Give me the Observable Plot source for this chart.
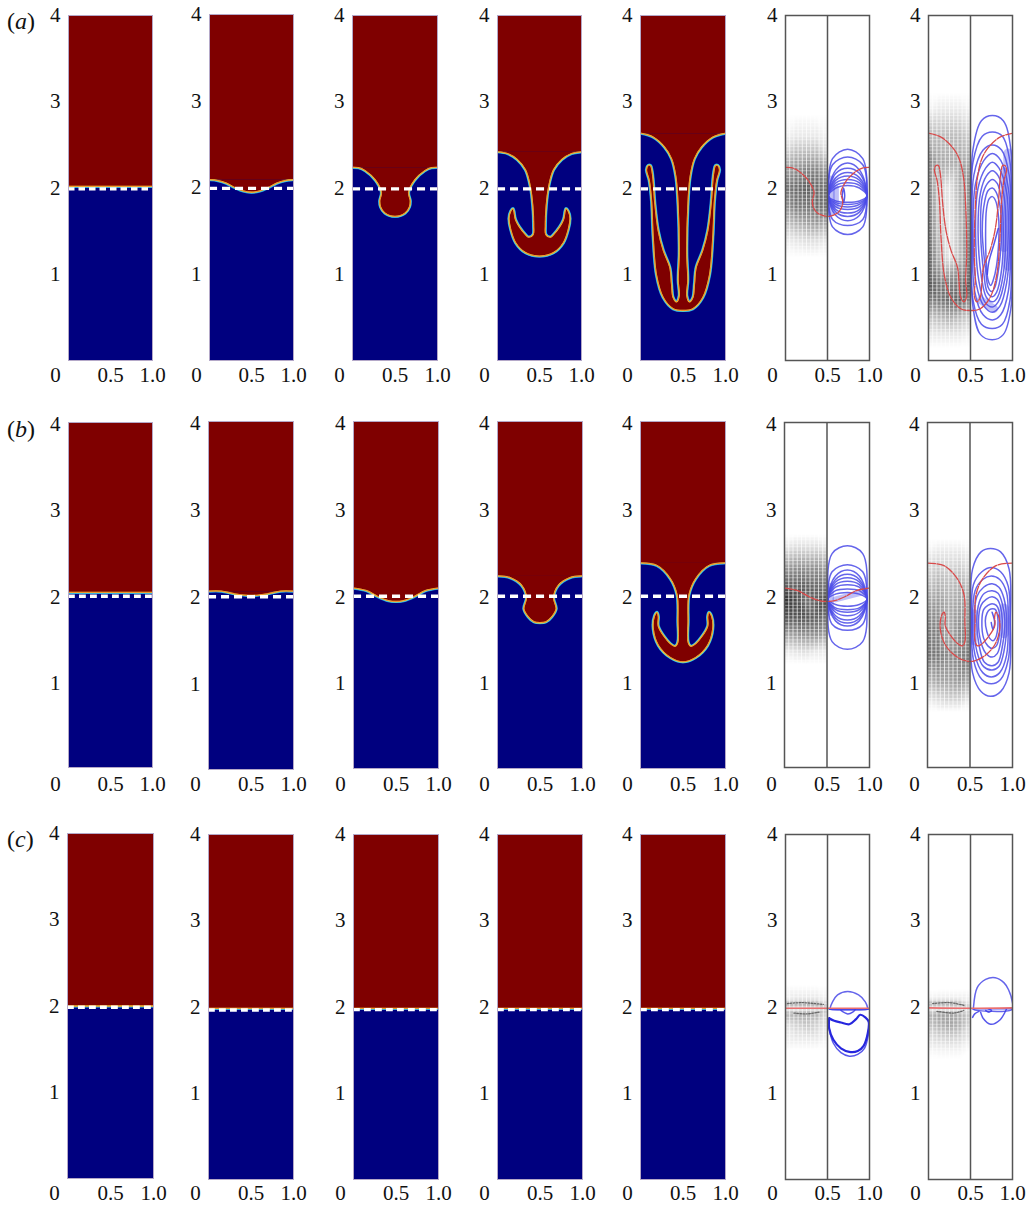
<!DOCTYPE html>
<html><head><meta charset="utf-8">
<script src="https://cdn.jsdelivr.net/npm/d3@7"></script>
<script src="https://cdn.jsdelivr.net/npm/@observablehq/plot@0.6"></script>
<style>
html,body{margin:0;padding:0;background:#fff;}
#page{position:relative;width:1033px;height:1206px;overflow:hidden;font-family:"Liberation Serif",serif;}
.lab{position:absolute;left:7px;font-size:24px;line-height:26px;color:#111;}
</style></head><body><div id="page"></div>
<script>
// ---------- interface curves: left half of each (x, y) -----------
const iface_a1=[[0,2.02],[.5,2.02]];
const iface_a2=[[0,2.09],[.1,2.08],[.2,2.05],[.3,2.0],[.4,1.96],[.5,1.945]];
const iface_a3=[[0,2.24],[.07,2.235],[.15,2.2],[.27,2.09],[.34,1.95],[.32,1.85],[.33,1.78],[.38,1.71],[.5,1.67]];
const iface_a4=[[0,2.42],[.118,2.4],[.235,2.33],[.333,2.21],[.39,2.02],[.42,1.79],[.43,1.56],[.424,1.46],[.37,1.43],[.333,1.46],[.216,1.63],[.196,1.73],[.184,1.76],[.157,1.73],[.137,1.65],[.157,1.52],[.216,1.365],[.333,1.25],[.5,1.21]];
const iface_a5=[[0,2.635],[.149,2.59],[.286,2.47],[.365,2.34],[.416,2.13],[.443,1.78],[.455,1.24],[.443,.93],[.455,.75],[.424,.68],[.384,.73],[.365,.89],[.345,1.08],[.267,1.28],[.208,1.51],[.169,1.82],[.149,2.09],[.137,2.19],[.118,2.26],[.09,2.26],[.07,2.21],[.102,2.09],[.13,1.85],[.149,1.43],[.188,.99],[.267,.73],[.384,.6],[.5,.58]];
const iface_b1=[[0,2.03],[.5,2.03]];
const iface_b2=[[0,2.05],[.15,2.05],[.3,2.02],[.5,2.0]];
const iface_b3=[[0,2.08],[.155,2.05],[.29,1.98],[.41,1.935],[.5,1.925]];
const iface_b4=[[0,2.22],[.148,2.2],[.285,2.11],[.34,1.97],[.31,1.84],[.36,1.75],[.43,1.69],[.5,1.68]];
const iface_b5=[[0,2.37],[.195,2.34],[.35,2.19],[.43,2.0],[.44,1.69],[.44,1.46],[.41,1.41],[.35,1.44],[.21,1.64],[.21,1.75],[.195,1.8],[.165,1.76],[.15,1.61],[.21,1.42],[.35,1.28],[.5,1.23]];
const iface_c1=[[0,2.0],[.5,2.0]];
const iface_c2=[[0,1.985],[.5,1.985]];
const iface_c3=[[0,1.985],[.5,1.985]];
const iface_c4=[[0,1.985],[.5,1.985]];
const iface_c5=[[0,1.985],[.5,1.985]];
const iface_c6=[[0,1.985],[.5,1.985]];
const iface_c7=[[0,1.99],[.5,1.985]];

// ---------- stream-function contours (right half of panels 6, 7) ---------
const outerX=[.51,.56,.74,.92,.97,.92,.74,.56];
const innerX=[.51,.6,.74,.88,.97,.88,.74,.6];
const contourX_a6=[outerX,outerX,innerX,innerX,innerX,innerX,innerX,innerX,innerX];
const contourY_a6=[
[1.91,2.34,2.45,2.34,1.91,1.55,1.46,1.55],
[1.91,2.27,2.36,2.27,1.91,1.635,1.565,1.635],
[1.91,2.21,2.29,2.21,1.91,1.68,1.62,1.68],
[1.91,2.17,2.23,2.17,1.91,1.72,1.67,1.72],
[1.91,2.12,2.18,2.12,1.91,1.75,1.71,1.75],
[1.91,2.09,2.14,2.09,1.91,1.78,1.75,1.78],
[1.91,2.06,2.1,2.06,1.91,1.81,1.78,1.81],
[1.91,2.03,2.06,2.03,1.91,1.83,1.81,1.83],
[1.91,2.0,2.03,2.0,1.91,1.85,1.835,1.85]];
const contourX_b6=[outerX,outerX,innerX,innerX,innerX,innerX,innerX,innerX,innerX];
const contourY_b6=[
[1.95,2.48,2.57,2.48,1.95,1.46,1.37,1.46],
[1.95,2.27,2.35,2.27,1.95,1.66,1.59,1.66],
[1.95,2.22,2.29,2.22,1.95,1.7,1.64,1.7],
[1.95,2.18,2.24,2.18,1.95,1.73,1.675,1.73],
[1.95,2.15,2.2,2.15,1.95,1.76,1.71,1.76],
[1.95,2.12,2.16,2.12,1.95,1.8,1.76,1.8],
[1.95,2.09,2.12,2.09,1.95,1.83,1.8,1.83],
[1.95,2.05,2.07,2.05,1.95,1.85,1.83,1.85],
[1.95,2.01,2.03,2.01,1.95,1.89,1.87,1.89]];
const contourX_a7=[
[.51,.53,.63,.76,.89,.98,.99,.98,.89,.76,.62,.53],
[.51,.53,.64,.76,.88,.97,.985,.97,.88,.76,.63,.53],
[.52,.54,.65,.76,.87,.96,.98,.95,.86,.76,.65,.55],
[.53,.56,.66,.76,.86,.95,.97,.93,.85,.76,.66,.57],
[.56,.59,.68,.76,.84,.93,.95,.91,.83,.76,.67,.6],
[.59,.62,.69,.76,.83,.9,.92,.89,.82,.76,.69,.63],
[.62,.64,.7,.76,.82,.87,.89,.87,.81,.76,.7,.66],
[.64,.67,.71,.76,.8,.85,.87,.84,.79,.75,.71,.68],
[.68,.69,.72,.76,.8,.83,.84,.81,.77,.74,.71,.69]];
const contourY_a7=[
[1.5,2.45,2.78,2.84,2.78,2.45,1.5,.6,.3,.24,.3,.62],
[1.5,2.3,2.6,2.65,2.6,2.3,1.5,.7,.42,.37,.42,.7],
[1.5,2.15,2.44,2.5,2.44,2.15,1.5,.8,.53,.47,.53,.8],
[1.5,2.05,2.32,2.4,2.32,2.0,1.5,.9,.63,.56,.63,.88],
[1.5,2.0,2.23,2.3,2.23,1.95,1.5,.95,.68,.62,.68,.92],
[1.5,1.95,2.14,2.2,2.14,1.9,1.5,1,.73,.68,.73,.97],
[1.5,1.9,2.05,2.1,2.05,1.85,1.5,1.05,.79,.74,.79,1.0],
[1.5,1.85,1.97,2.0,1.96,1.8,1.5,1.1,.85,.8,.85,1.05],
[1.5,1.75,1.87,1.9,1.85,1.7,1.5,1.1,.93,.87,.93,1.1]];
const contourX_b7=[
[.51,.53,.63,.74,.86,.96,.975,.96,.86,.74,.63,.53],
[.52,.54,.64,.75,.86,.95,.97,.95,.86,.75,.64,.54],
[.53,.56,.65,.75,.85,.93,.95,.93,.85,.75,.65,.56],
[.55,.58,.66,.76,.84,.9,.93,.9,.84,.76,.66,.58],
[.58,.61,.67,.76,.83,.88,.91,.88,.83,.76,.67,.61],
[.6,.63,.69,.76,.82,.86,.88,.86,.82,.76,.69,.63],
[.64,.66,.71,.76,.81,.84,.85,.84,.81,.76,.71,.66],
[.68,.7,.73,.77,.8,.82,.83,.82,.8,.77,.73,.7]];
const contourY_b7=[
[1.7,2.3,2.5,2.54,2.5,2.3,1.7,1.1,.88,.825,.88,1.1],
[1.7,2.12,2.27,2.32,2.27,2.1,1.7,1.25,1.02,.97,1.02,1.25],
[1.7,2.05,2.18,2.22,2.18,2.03,1.7,1.3,1.1,1.05,1.1,1.3],
[1.7,1.98,2.09,2.13,2.09,1.96,1.7,1.35,1.17,1.13,1.17,1.35],
[1.7,1.92,2.02,2.05,2.02,1.9,1.7,1.4,1.22,1.18,1.22,1.4],
[1.7,1.88,1.95,1.98,1.95,1.86,1.7,1.45,1.32,1.28,1.32,1.45],
[1.7,1.83,1.88,1.9,1.88,1.82,1.7,1.5,1.41,1.38,1.41,1.5],
[1.7,1.79,1.83,1.84,1.83,1.78,1.7,1.57,1.5,1.47,1.5,1.57]];
const contourX_c6=[[.53,.56,.62,.74,.87,.95,.98,.98,.53]];
const contourY_c6=[[1.98,2.06,2.14,2.18,2.14,2.06,1.98,1.975,1.975]];
const contourX_c7=[[.535,.58,.68,.795,.9,.953,1,1,.535]];
const contourY_c7=[[1.99,2.224,2.32,2.34,2.28,2.2,2.05,1.975,1.975]];

// open contour pieces, and the heavy lower loop of the (c) panels
const open_a6=[[[.675,1.91],[.69,2.0],[.705,1.91],[.69,1.83],[.675,1.91]]];
const open_a7=[[[.83,1.53],[.78,1.35],[.72,1.15],[.7,1.0]]];
const open_b6=[];
const open_b7=[[[.76,1.8],[.79,1.68],[.77,1.6],[.75,1.68]]];
const open_c6=[[[.52,1.975],[.99,1.975]],[[.66,1.96],[.74,1.92],[.8,1.94],[.83,1.97]],[[.52,1.75],[.57,1.58],[.66,1.47],[.76,1.43],[.86,1.45],[.94,1.52],[.99,1.7]]];
const open_c7=[[[.52,1.98],[1,1.98]],[[.525,1.88],[.55,1.92],[.6,1.95]],[[.62,1.94],[.65,1.87],[.74,1.8],[.85,1.85],[.93,1.98]],[[.68,1.96],[.72,1.94],[.75,1.96],[.71,1.98]]];
const heavy_c6=[[.52,1.87],[.58,1.84],[.66,1.82],[.76,1.8],[.84,1.86],[.89,1.91],[.95,1.88],[.99,1.83],[.98,1.7],[.93,1.55],[.86,1.49],[.76,1.48],[.66,1.52],[.57,1.62],[.52,1.75],[.52,1.87]];

// dense blue patches where contours crowd: [points, weight]
const haze_a6=[[[[.54,1.72],[.54,2.1]],8],[[[.6,1.8],[.6,2.0]],6]];
const haze_a7=[[[[.95,1.1],[.95,2.4]],10],[[[.9,1.3],[.9,2.2]],7],[[[.62,.7],[.78,.6]],8]];
const haze_b6=[[[[.54,1.8],[.54,2.1]],7],[[[.6,1.95],[.92,2.03]],6]];
const haze_b7=[[[[.9,1.55],[.9,1.85]],9],[[[.55,1.45],[.55,1.8]],6]];
const haze_c6=[];
const haze_c7=[];

// dark streaks of packed vectors in the (c) panels
const streak_c6=[[[.02,2.04],[.2,2.05],[.45,2.03]],[[.1,1.93],[.25,1.92],[.4,1.94]]];
const streak_c7=[[[.05,2.04],[.25,2.05],[.42,2.02]],[[.1,1.95],[.3,1.93],[.42,1.96]]];

// ---------- darkness of the velocity-vector field (left half) --------
const fieldX=[0,.12,.25,.37,.5];
const fieldY_a6=[2.85,2.6,2.4,2.2,2.0,1.8,1.6,1.4,1.2];
const field_a6=[[0,0,0,0,0],[.05,.1,.1,.1,.05],[.2,.3,.3,.3,.15],[.4,.5,.55,.55,.4],[.6,.65,.7,.65,.6],[.45,.6,.6,.65,.6],[.25,.35,.4,.45,.35],[.08,.12,.15,.15,.1],[0,0,0,0,0]];
const fieldY_a7=[3.1,2.9,2.6,2.3,2.0,1.6,1.2,.9,.7,.5,.3,.15];
const field_a7=[[0,0,0,0,0],[.05,.1,.1,.1,.05],[.3,.3,.3,.3,.2],[.55,.4,.35,.4,.35],[.6,.2,.1,.35,.5],[.65,.25,.08,.3,.5],[.7,.35,.1,.3,.6],[.75,.6,.55,.6,.7],[.55,.6,.65,.7,.5],[.25,.3,.35,.3,.2],[.08,.1,.1,.1,.05],[0,0,0,0,0]];
const fieldY_b6=[2.7,2.55,2.3,2.1,1.95,1.75,1.55,1.35,1.2];
const field_b6=[[0,0,0,0,0],[.1,.15,.15,.15,.1],[.45,.5,.5,.5,.4],[.7,.7,.7,.65,.6],[.9,.8,.6,.7,.8],[.75,.75,.75,.7,.6],[.4,.45,.5,.5,.4],[.08,.12,.15,.1,.08],[0,0,0,0,0]];
const fieldY_b7=[2.65,2.5,2.2,1.9,1.6,1.3,1.0,.8,.65];
const field_b7=[[0,0,0,0,0],[.05,.1,.1,.1,.05],[.2,.3,.25,.3,.2],[.4,.45,.35,.4,.4],[.55,.55,.35,.5,.5],[.6,.6,.5,.55,.6],[.3,.4,.4,.45,.35],[.1,.15,.2,.2,.1],[0,0,0,0,0]];
const fieldY_c6=[2.25,2.1,2.03,1.98,1.92,1.8,1.65,1.5];
const field_c6=[[0,0,0,0,0],[.05,.1,.1,.1,.05],[.3,.35,.35,.35,.15],[.1,.1,.12,.15,.2],[.3,.35,.35,.35,.15],[.12,.2,.25,.2,.1],[.06,.1,.1,.1,.05],[0,0,0,0,0]];
const fieldY_c7=[2.2,2.1,2.04,1.98,1.92,1.8,1.65,1.5,1.4];
const field_c7=[[0,0,0,0,0],[.05,.08,.08,.08,.05],[.3,.35,.35,.3,.1],[.1,.1,.1,.12,.2],[.3,.4,.4,.35,.2],[.25,.35,.4,.35,.15],[.12,.18,.2,.18,.08],[.03,.05,.05,.05,0],[0,0,0,0,0]];

// ---------- tick labels and layout -------
const yTicks=[1,2,3,4];
const xTicks=[.5,1];
const rowLabels=[["a",8],["b",416],["c",826]];
const rows=[
 {id:"a",labelY:375,tickDy:0,left:[68,209,352,497,640,785,928],right:[152,293,437,581,725,869,1012],top:[15,14,15,15,15,15,15],bottom:[360,360,360,360,360,360,360],dashY:[1.99,1.99,1.99,1.99,1.99],
  iface:[iface_a1,iface_a2,iface_a3,iface_a4,iface_a5],period:[10.5,13,13,13,13]},
 {id:"b",labelY:784,tickDy:2,left:[68,208,353,497,640,784,927],right:[152,293,438,582,725,869,1012],top:[422,421,421,421,421,422,422],bottom:[767,769,768,768,768,767,767],dashY:[1.985,1.985,1.985,1.985,1.985],
  iface:[iface_b1,iface_b2,iface_b3,iface_b4,iface_b5],period:[11,13,13,13,13]},
 {id:"c",labelY:1193,tickDy:0,left:[67,208,353,497,640,785,928],right:[153,293,438,582,725,869,1012],top:[833,834,834,834,834,834,834],bottom:[1178,1179,1179,1179,1179,1179,1179],dashY:[1.985,1.965,1.97,1.97,1.97],
  iface:[iface_c1,iface_c2,iface_c3,iface_c4,iface_c5],period:[11,11,11,11,11]}
];
const right={
 a6:{red:iface_a3,cx:contourX_a6,cy:contourY_a6,open:open_a6,haze:haze_a6,fy:fieldY_a6,f:field_a6},
 a7:{red:iface_a5,cx:contourX_a7,cy:contourY_a7,open:open_a7,haze:haze_a7,fy:fieldY_a7,f:field_a7},
 b6:{red:iface_b3,cx:contourX_b6,cy:contourY_b6,open:open_b6,haze:haze_b6,fy:fieldY_b6,f:field_b6},
 b7:{red:iface_b5,cx:contourX_b7,cy:contourY_b7,open:open_b7,haze:haze_b7,fy:fieldY_b7,f:field_b7},
 c6:{red:iface_c6,cx:contourX_c6,cy:contourY_c6,open:open_c6,haze:haze_c6,fy:fieldY_c6,f:field_c6,heavy:heavy_c6,streak:streak_c6},
 c7:{red:iface_c7,cx:contourX_c7,cy:contourY_c7,open:open_c7,haze:haze_c7,fy:fieldY_c7,f:field_c7,streak:streak_c7}
};

// ---------- helpers -------
const FONT="Liberation Serif";
const full=h=>h.concat(h.slice(0,-1).reverse().map(([x,y])=>[1-x,y])).map(([x,y])=>({x,y}));
const M={l:30,r:20,t:12,b:30};
const axes=(R,i)=>{
 const pad=R.labelY-R.bottom[i]-8;
 return [
 Plot.axisY({ticks:yTicks,tickSize:0,tickPadding:8,dy:R.tickDy,fontSize:21,tickFormat:d=>String(d),label:null,fontFamily:FONT,fill:"#111"}),
 Plot.axisX({ticks:xTicks,tickSize:0,tickPadding:pad,fontSize:21,tickFormat:d=>d.toFixed(1),label:null,fontFamily:FONT,fill:"#111"}),
 Plot.axisX({ticks:[0],tickSize:0,tickPadding:pad,dx:-13,fontSize:21,tickFormat:()=>"0",label:null,fontFamily:FONT,fill:"#111"})
 ];
};
function place(marks,l,r,t,b,extra={}){
 const svg=Plot.plot({width:r-l+M.l+M.r,height:b-t+M.t+M.b,marginLeft:M.l,marginRight:M.r,marginTop:M.t,marginBottom:M.b,
  x:{domain:[0,1]},y:{domain:[0,4]},style:{fontFamily:FONT,background:"transparent",overflow:"visible"},marks,...extra});
 svg.style.left=(l-M.l)+"px";svg.style.top=(t-M.t)+"px";svg.style.position="absolute";svg.style.maxWidth="none";
 document.getElementById("page").appendChild(svg);
}
function leftPanel(R,i){
 const half=R.iface[i],edge=half[0][1],d=full(half),p=R.period[i];
 const ln=o=>Plot.line(d,{x:"x",y:"y",curve:"catmull-rom",clip:"frame",...o});
 place([
  Plot.rect([{a:0,b:1,c:0,e:4}],{x1:"a",x2:"b",y1:"c",y2:"e",fill:"#00007f"}),
  ln({stroke:"#2a8ce0",strokeWidth:3.2}),
  ln({stroke:"#42dcd8",strokeWidth:2.3}),
  Plot.rect([{a:0,b:1,c:edge-.006,e:4}],{x1:"a",x2:"b",y1:"c",y2:"e",fill:"#7f0000"}),
  ln({fill:"#7f0000",stroke:"none"}),
  ln({stroke:"#f0dc40",strokeWidth:1.3}),
  ln({stroke:"#ee5a20",strokeWidth:.6}),
  Plot.ruleY([R.dashY[i]],{stroke:"#fff",strokeWidth:3.4,strokeDasharray:`${p*.62},${p*.38}`}),
  Plot.frame({stroke:"#b4a8c8",strokeWidth:1}),
  ...axes(R,i)
 ],R.left[i],R.right[i],R.top[i],R.bottom[i]);
}
function rightPanel(R,i){
 const K=right[R.id+(i+1)];
 const field=K.fy.flatMap((y,r)=>fieldX.map((x,c)=>({x,y,v:K.f[r][c]})));
 const contours=K.cy.flatMap((ys,k)=>ys.map((y,j)=>({x:K.cx[k][j],y,k})));
 const open=K.open.flatMap((pts,k)=>pts.map(([x,y])=>({x,y,k})));
 const isC=R.id==="c";
 const marks=[
  Plot.raster(field,{x:"x",y:"y",fill:"v",interpolate:"barycentric",pixelSize:1,x1:0,x2:.5,y1:0,y2:4}),
  Plot.gridX({interval:.05,stroke:"#fff",strokeOpacity:.7,strokeWidth:1}),
  Plot.gridY({interval:.04,stroke:"#fff",strokeOpacity:.4,strokeWidth:1}),
  ...(K.streak||[]).map(pts=>Plot.line(pts.map(([x,y])=>({x,y})),{x:"x",y:"y",curve:"catmull-rom",stroke:"#666",strokeWidth:1.3,strokeDasharray:"1.5,1.5"})),
  ...K.haze.map(([pts,w])=>Plot.line(pts.map(([x,y])=>({x,y})),{x:"x",y:"y",stroke:"#4a4ae8",strokeOpacity:.35,strokeWidth:w,strokeLinecap:"round",clip:"frame"})),
  Plot.line(contours,{x:"x",y:"y",z:"k",curve:"catmull-rom-closed",stroke:"#4a4ae8",strokeOpacity:.85,strokeWidth:1.5,clip:"frame"}),
  Plot.line(open,{x:"x",y:"y",z:"k",curve:"catmull-rom",stroke:"#3a3ae8",strokeOpacity:.85,strokeWidth:1.5,clip:"frame"})
 ];
 if(K.heavy) marks.push(Plot.line(K.heavy.map(([x,y])=>({x,y})),{x:"x",y:"y",curve:"catmull-rom",stroke:"#2626de",strokeWidth:2.2,clip:"frame"}));
 marks.push(
  Plot.line(full(K.red),{x:"x",y:"y",curve:"catmull-rom",stroke:isC?"#ea7070":"#d94a4a",strokeWidth:isC?1.6:1.3,strokeDasharray:isC?null:"8,1.5",clip:"frame"}),
  Plot.ruleX([.5],{stroke:"#555",strokeWidth:1.5}),
  Plot.frame({stroke:"#555",strokeWidth:1.5}),
  ...axes(R,i));
 place(marks,R.left[i],R.right[i],R.top[i],R.bottom[i],{color:{type:"linear",domain:[0,1],range:["#ffffff","#1c1c1c"]}});
}
for(const R of rows){
 for(let i=0;i<5;i++) leftPanel(R,i);
 for(let i=5;i<7;i++) rightPanel(R,i);
}
for(const [t,y] of rowLabels){
 const e=document.createElement("div");e.className="lab";e.style.top=y+"px";
 e.innerHTML=`(<i>${t}</i>)`;document.getElementById("page").appendChild(e);
}
</script></body></html>
